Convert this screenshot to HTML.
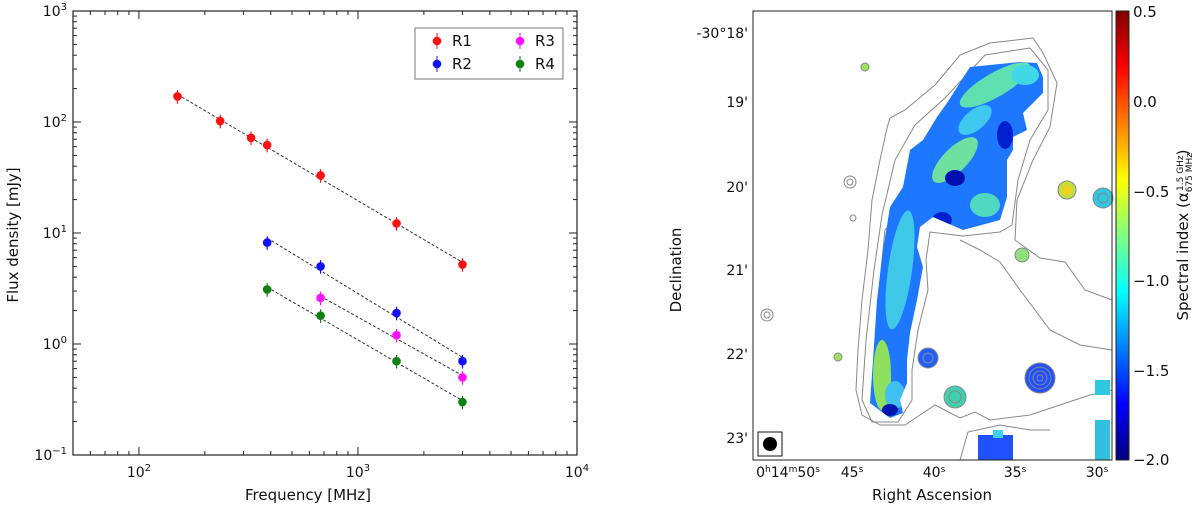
<!DOCTYPE html>
<html><head><meta charset="utf-8">
<style>
body{margin:0;background:#fff;width:1200px;height:507px;overflow:hidden;font-family:"Liberation Sans","DejaVu Sans",sans-serif;}
svg{position:absolute;left:0;top:0}
text{font-family:"DejaVu Sans","Liberation Sans",sans-serif;fill:#111}
</style></head>
<body>
<svg id="chart" width="1200" height="507" viewBox="0 0 1200 507">
<defs>
<linearGradient id="jet" x1="0" y1="1" x2="0" y2="0">
<stop offset="0" stop-color="#00007f"/><stop offset="0.125" stop-color="#0000ff"/>
<stop offset="0.375" stop-color="#00ffff"/><stop offset="0.625" stop-color="#ffff00"/>
<stop offset="0.875" stop-color="#ff0000"/><stop offset="1" stop-color="#7f0000"/>
</linearGradient>
<clipPath id="jetclip"><path d="M947,103 L970,67 L1020,62 L1037,63 L1043,77 L1043,93 L1023,113 L1027,130 L1013,137 L1013,150 L1007,160 L1007,197 L1000,220 L963,230 L933,217 L920,227 L917,247 L923,267 L917,300 L910,333 L907,360 L907,383 L900,400 L903,413 L890,418 L870,403 L873,360 L877,300 L883,250 L890,207 L903,187 L910,150 L923,140 L937,117 Z"/></clipPath>
</defs>
<g id="left"></g>
<g id="right">
<rect x="753" y="11" width="359" height="449" fill="#fff"/>
<g fill="none" stroke="#888" stroke-width="1">
<path d="M935,85 L960,55 L990,43 L1033,38 L1043,53 L1057,83 L1050,127 L1033,160 L1017,200 L1015,240 L1040,258 L1065,262 L1085,290 L1112,300"/>
<path d="M935,85 L905,110 L890,118 L887,128 L880,160 L872,200 L868,250 L862,300 L858,350 L856,390 L862,415 L880,425 L905,425 L920,415 L935,405 L960,418 L975,412 L990,420 L1030,415 L1060,405 L1090,395 L1112,390"/>
<path d="M945,98 L985,55 L1030,48 L1048,70 L1048,110 L1030,140 L1018,180 L1012,225 L1000,232 L963,236 L930,232 L926,260 L928,290 L918,330 L912,370 L912,400 L898,422 L872,422 L862,400 L866,340 L874,270 L882,215 L895,160 L915,125 Z"/>
<path d="M960,240 L980,250 L1000,262 L1020,290 L1050,330 L1080,345 L1112,350"/>
<path d="M960,460 L968,432 L1000,425 L1030,430 L1050,430"/>
<path d="M955,100 L1000,75 L1030,65 L1035,85 L1010,105 L995,125 L985,160 L970,190 L955,205 L935,210 L930,190 L945,150 Z"/>
<path d="M885,230 L898,215 L903,260 L895,330 L888,370 L880,345 L880,280 Z"/>
</g>
<g clip-path="url(#jetclip)">
<rect x="850" y="50" width="210" height="380" fill="#1e78ff"/>
<ellipse cx="995" cy="85" rx="40" ry="12" fill="#60e0b0" transform="rotate(-30 995 85)"/>
<ellipse cx="1025" cy="75" rx="14" ry="10" fill="#40d8e8"/>
<ellipse cx="955" cy="160" rx="30" ry="12" fill="#70e0a0" transform="rotate(-45 955 160)"/>
<ellipse cx="975" cy="120" rx="20" ry="10" fill="#40c8f0" transform="rotate(-40 975 120)"/>
<ellipse cx="985" cy="205" rx="15" ry="12" fill="#50d8c0"/>
<ellipse cx="900" cy="270" rx="12" ry="60" fill="#40c8e8" transform="rotate(8 900 270)"/>
<ellipse cx="882" cy="375" rx="9" ry="35" fill="#90e060"/>
<ellipse cx="895" cy="395" rx="10" ry="14" fill="#40c0f0"/>
<ellipse cx="955" cy="178" rx="10" ry="8" fill="#0010b0"/>
<ellipse cx="942" cy="220" rx="10" ry="8" fill="#0020d0"/>
<ellipse cx="1005" cy="135" rx="8" ry="14" fill="#0020d0"/>
<ellipse cx="890" cy="410" rx="8" ry="6" fill="#0015b0"/>
</g>
<g fill="none" stroke="#888">
<circle cx="1067" cy="190" r="9" fill="#c0e040"/><circle cx="1067" cy="190" r="5" fill="#f0d020" stroke="none"/>
<circle cx="1103" cy="198" r="10" fill="#30c8e0"/><circle cx="1103" cy="198" r="5"/>
<circle cx="928" cy="358" r="10" fill="#2060ff"/><circle cx="928" cy="358" r="5"/>
<circle cx="955" cy="397" r="11" fill="#40d0b0"/><circle cx="955" cy="397" r="6"/>
<circle cx="1040" cy="378" r="15" fill="#2050ff"/><circle cx="1040" cy="378" r="11"/><circle cx="1040" cy="378" r="7"/><circle cx="1040" cy="378" r="3"/>
<circle cx="1022" cy="255" r="7" fill="#90e080"/>
<circle cx="865" cy="67" r="4" fill="#a0e060"/><circle cx="838" cy="357" r="4" fill="#a0e060"/>
<circle cx="850" cy="182" r="6"/><circle cx="850" cy="182" r="3"/><circle cx="767" cy="315" r="6"/><circle cx="767" cy="315" r="3"/><circle cx="853" cy="218" r="3"/>
<rect x="978" y="435" width="35" height="25" fill="#2050ff" stroke="none"/>
<rect x="993" y="430" width="10" height="8" fill="#40d0f0" stroke="none"/>
<rect x="1095" y="420" width="15" height="40" fill="#30c0e0" stroke="none"/>
<rect x="1095" y="380" width="15" height="15" fill="#30c8e0" stroke="none"/>
</g>
<rect x="753" y="11" width="359" height="449" fill="none" stroke="#222" stroke-width="1"/>
<rect x="758" y="432" width="24" height="24" fill="#fff" stroke="#111"/>
<circle cx="770" cy="444" r="7" fill="#000"/>
<g font-size="14" text-anchor="end">
<text x="748" y="38">-30°18'</text><text x="748" y="107">19'</text><text x="748" y="192">20'</text>
<text x="748" y="275">21'</text><text x="748" y="359">22'</text><text x="748" y="443">23'</text>
</g>
<g font-size="14" text-anchor="middle">
<text x="788" y="477">0<tspan font-size="9" dy="-5">h</tspan><tspan dy="5">14</tspan><tspan font-size="9" dy="-5">m</tspan><tspan dy="5">50</tspan><tspan font-size="9" dy="-5">s</tspan></text>
<text x="852" y="477">45<tspan font-size="9" dy="-5">s</tspan></text><text x="934" y="477">40<tspan font-size="9" dy="-5">s</tspan></text>
<text x="1015" y="477">35<tspan font-size="9" dy="-5">s</tspan></text><text x="1097" y="477">30<tspan font-size="9" dy="-5">s</tspan></text>
</g>
<text x="932" y="500" font-size="15" text-anchor="middle">Right Ascension</text>
<text transform="translate(681,270) rotate(-90)" font-size="15" text-anchor="middle">Declination</text>
<rect x="1116" y="11" width="13" height="449" fill="url(#jet)" stroke="#222"/>
<g font-size="15">
<text x="1133" y="17">0.5</text><text x="1133" y="107">0.0</text><text x="1133" y="197">−0.5</text>
<text x="1133" y="286">−1.0</text><text x="1133" y="376">−1.5</text><text x="1133" y="465">−2.0</text>
</g>
<text transform="translate(1188,235) rotate(-90)" font-size="15" text-anchor="middle">Spectral index (α<tspan font-size="9" dy="4">675 MHz</tspan><tspan font-size="9" dy="-9" dx="-38">1.5 GHz</tspan><tspan dy="5">)</tspan></text>
</g>
</svg>
<script>
const freqR1=[150,235,325,385,675,1500,3000];
const fluxR1=[170,102,72,62,33,12.2,5.2];
const freqR2=[385,675,1500,3000];
const fluxR2=[8.2,5.0,1.9,0.7];
const freqR3=[675,1500,3000];
const fluxR3=[2.6,1.2,0.5];
const freqR4=[385,675,1500,3000];
const fluxR4=[3.1,1.8,0.7,0.3];
const seriesNames=['R1','R2','R3','R4'];
const seriesColors=['#ff1010','#1010ff','#ff10ff','#108010'];
const yTickExp=[-1,0,1,2,3];
const xTickExp=[2,3,4];

const NS='http://www.w3.org/2000/svg';
const L=73,R=577,T=11,B=455;
const xmin=Math.log10(50),xmax=4,ymin=-1,ymax=3;
const X=v=>L+(Math.log10(v)-xmin)/(xmax-xmin)*(R-L);
const Y=v=>B-(Math.log10(v)-ymin)/(ymax-ymin)*(B-T);
const g=document.getElementById('left');
function mk(tag,attrs,parent){const e=document.createElementNS(NS,tag);for(const k in attrs)e.setAttribute(k,attrs[k]);(parent||g).appendChild(e);return e;}

const frame=mk('rect',{x:L,y:T,width:R-L,height:B-T,fill:'none',stroke:'#222','stroke-width':1.2});



for(let e=1;e<4;e++){for(let m=1;m<10;m++){const v=m*Math.pow(10,e);if(v<50)continue;const x=X(v);const len=m===1?8:4;
mk('line',{x1:x,y1:B,x2:x,y2:B-len,stroke:'#222'});mk('line',{x1:x,y1:T,x2:x,y2:T+len,stroke:'#222'});}}
for(let e=-1;e<3;e++){for(let m=1;m<10;m++){const v=m*Math.pow(10,e);const y=Y(v);const len=m===1?8:4;
mk('line',{x1:L,y1:y,x2:L+len,y2:y,stroke:'#222'});mk('line',{x1:R,y1:y,x2:R-len,y2:y,stroke:'#222'});}}
xTickExp.forEach(e=>{const t=mk('text',{x:X(Math.pow(10,e)),y:B+22,'font-size':14,'text-anchor':'middle'});


t.innerHTML='10<tspan font-size="10" dy="-6">'+e+'</tspan>';});
yTickExp.forEach(e=>{const t=mk('text',{x:L-6,y:Y(Math.pow(10,e))+5,'font-size':14,'text-anchor':'end'});


t.innerHTML='10<tspan font-size="10" dy="-6">'+(e<0?'−'+(-e):e)+'</tspan>';});

const xt=mk('text',{x:308,y:500,'font-size':15,'text-anchor':'middle'});xt.textContent='Frequency  [MHz]';


const yt=mk('text',{transform:'translate(18,235) rotate(-90)','font-size':15,'text-anchor':'middle'});yt.textContent='Flux density [mJy]';



const all=[[freqR1,fluxR1],[freqR2,fluxR2],[freqR3,fluxR3],[freqR4,fluxR4]];
all.forEach(([f,s],i)=>{
  const lx=f.map(Math.log10),ly=s.map(Math.log10),n=f.length;
  const mx=lx.reduce((a,b)=>a+b)/n,my=ly.reduce((a,b)=>a+b)/n;
  let num=0,den=0;for(let k=0;k<n;k++){num+=(lx[k]-mx)*(ly[k]-my);den+=(lx[k]-mx)**2;}
  const b=num/den,a=my-b*mx;
  const f0=f[0],f1=f[n-1];
  const ln=mk('line',{x1:X(f0),y1:Y(Math.pow(10,a+b*Math.log10(f0))),x2:X(f1),y2:Y(Math.pow(10,a+b*Math.log10(f1))),stroke:'#333','stroke-dasharray':'3,2','stroke-width':1});
  
  
  f.forEach((fv,k)=>{
    const x=X(fv),y=Y(s[k]);
    const eb=mk('line',{x1:x,y1:Y(s[k]*1.14),x2:x,y2:Y(s[k]*0.86),stroke:seriesColors[i],'stroke-width':1.2});
    
    
    const c=mk('circle',{cx:x,cy:y,r:4.3,fill:seriesColors[i]});
    
    
  });
});

const lg=mk('g',{});


mk('rect',{x:415,y:28,width:148,height:51,fill:'#fff',stroke:'#777'},lg);
const lpos=[[437,41],[437,64],[520,41],[520,64]];
seriesNames.forEach((nm,i)=>{
  const [x,y]=lpos[i];
  const e=mk('g',{},lg);
  
  
  mk('line',{x1:x,y1:y-8,x2:x,y2:y+8,stroke:seriesColors[i]},e);
  mk('circle',{cx:x,cy:y,r:4.3,fill:seriesColors[i]},e);
  const t=mk('text',{x:x+15,y:y+5,'font-size':15},e);t.textContent=nm;
});
</script>
</body></html>
